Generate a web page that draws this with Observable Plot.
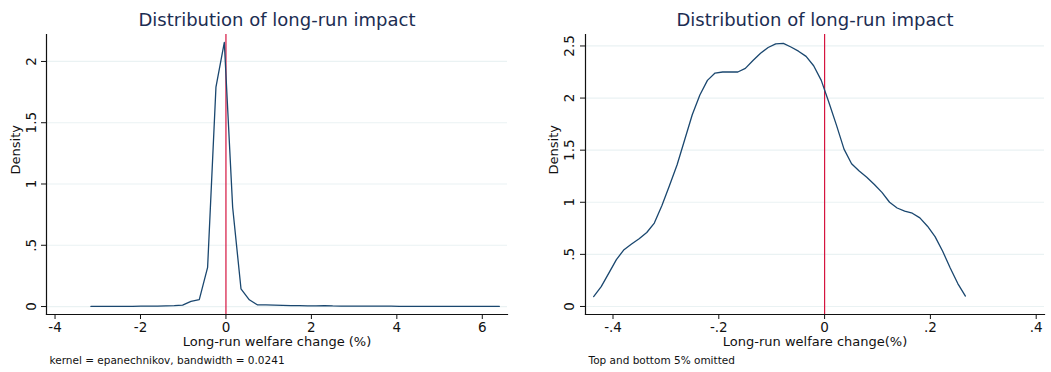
<!DOCTYPE html>
<html>
<head>
<meta charset="utf-8">
<script src="https://cdn.jsdelivr.net/npm/d3@7"></script>
<script src="https://cdn.jsdelivr.net/npm/@observablehq/plot@0.6"></script>
<style>
  html, body { margin: 0; padding: 0; background: #fff; }
  #row { display: flex; width: 1051px; height: 372px; }
  svg { font-family: "DejaVu Sans", sans-serif; }
</style>
</head>
<body>
<div id="row"></div>
<script>
// Kernel density of long-run welfare change, full sample (%)
const fullX = [-3.160, -2.965, -2.770, -2.575, -2.380, -2.184, -1.989, -1.794, -1.599, -1.404,
  -1.209, -1.014, -0.819, -0.624, -0.429, -0.234, -0.038, 0.157, 0.352, 0.547,
  0.742, 0.937, 1.132, 1.327, 1.522, 1.718, 1.913, 2.108, 2.303, 2.498,
  2.693, 2.888, 3.083, 3.278, 3.474, 3.669, 3.864, 4.059, 4.254, 4.449,
  4.644, 4.839, 5.034, 5.230, 5.425, 5.620, 5.815, 6.010, 6.205, 6.400];
const fullDensity = [0.001, 0.001, 0.001, 0.001, 0.002, 0.002, 0.003, 0.004, 0.004, 0.005,
  0.007, 0.012, 0.042, 0.057, 0.320, 1.790, 2.155, 0.810, 0.145, 0.055,
  0.013, 0.013, 0.012, 0.010, 0.008, 0.007, 0.006, 0.006, 0.008, 0.005,
  0.004, 0.004, 0.003, 0.004, 0.003, 0.003, 0.003, 0.002, 0.002, 0.002,
  0.002, 0.002, 0.002, 0.002, 0.002, 0.002, 0.002, 0.002, 0.002, 0.002];

// Kernel density with top and bottom 5% trimmed
const trimX = [-0.4366, -0.4223, -0.4079, -0.3936, -0.3792, -0.3649, -0.3506, -0.3362, -0.3219, -0.3075,
  -0.2932, -0.2788, -0.2645, -0.2502, -0.2358, -0.2215, -0.2071, -0.1928, -0.1784, -0.1641,
  -0.1498, -0.1354, -0.1211, -0.1067, -0.0924, -0.0780, -0.0637, -0.0494, -0.0350, -0.0207,
  -0.0063, 0.0080, 0.0224, 0.0367, 0.0510, 0.0654, 0.0797, 0.0941, 0.1084, 0.1228,
  0.1371, 0.1514, 0.1658, 0.1801, 0.1945, 0.2088, 0.2232, 0.2375, 0.2518, 0.2662];
const trimDensity = [0.095, 0.190, 0.320, 0.450, 0.545, 0.600, 0.650, 0.710, 0.800, 0.970,
  1.160, 1.360, 1.600, 1.840, 2.030, 2.170, 2.240, 2.250, 2.250, 2.250,
  2.285, 2.360, 2.430, 2.485, 2.520, 2.525, 2.490, 2.450, 2.400, 2.310,
  2.170, 1.960, 1.740, 1.510, 1.370, 1.300, 1.240, 1.170, 1.095, 1.000,
  0.945, 0.915, 0.895, 0.850, 0.770, 0.670, 0.530, 0.370, 0.220, 0.100];

// Tick values and their labels
const leftXTicks = [-4, -2, 0, 2, 4, 6];
const leftYTicks = [0, 0.5, 1, 1.5, 2];
const leftYLabels = ["0", ".5", "1", "1.5", "2"];
const rightXTicks = [-0.4, -0.2, 0, 0.2, 0.4];
const rightXLabels = ["-.4", "-.2", "0", ".2", ".4"];
const rightYTicks = [0, 0.5, 1, 1.5, 2, 2.5];
const rightYLabels = ["0", ".5", "1", "1.5", "2", "2.5"];

const titleText = "Distribution of long-run impact";
const leftXTitle = "Long-run welfare change (%)";
const rightXTitle = "Long-run welfare change(%)";
const leftNote = "kernel = epanechnikov, bandwidth = 0.0241";
const rightNote = "Top and bottom 5% omitted";

const NAVY = "#1a476f";
const RED = "#d5143f";
const GRID = "#eaf2f3";
const TITLE = "#1c2d52";
const INK = "#111";

function panel({xs, ys, width, marginLeft, marginRight, xDomain, yDomain,
                xTicks, xLabels, yTicks, yLabels, xTitle, note, densityDx, yPad}) {
  const rows = xs.map((x, i) => ({x, y: ys[i]}));
  const fmtX = xLabels ? (d) => xLabels[xTicks.indexOf(d)] : (d) => String(d).replace("−", "-");
  return Plot.plot({
    width, height: 372,
    marginLeft, marginRight, marginTop: 34, marginBottom: 58,
    style: {fontFamily: "DejaVu Sans, sans-serif", background: "#fff", overflow: "visible"},
    x: {domain: xDomain},
    y: {domain: yDomain},
    marks: [
      Plot.gridY(yTicks, {stroke: GRID, strokeOpacity: 1, strokeWidth: 1.2}),
      Plot.ruleX([0], {stroke: RED, strokeWidth: 1.2}),
      Plot.line(rows, {x: "x", y: "y", stroke: NAVY, strokeWidth: 1.3}),
      Plot.axisX(xTicks, {tickSize: 5, tickPadding: 3, fontSize: 13.5, tickFormat: fmtX,
        label: null, stroke: INK, fill: INK}),
      Plot.axisY(yTicks, {tickSize: 5, tickPadding: yPad, tickRotate: -90, fontSize: 13.5,
        tickFormat: (d) => yLabels[yTicks.indexOf(d)], label: null, stroke: INK, fill: INK}),
      Plot.frame({anchor: "left", stroke: INK, strokeWidth: 1.2}),
      Plot.frame({anchor: "bottom", stroke: INK, strokeWidth: 1.2}),
      Plot.text([titleText], {frameAnchor: "top", dy: -9, lineAnchor: "bottom",
        fontSize: 18, fill: TITLE}),
      Plot.text([xTitle], {frameAnchor: "bottom", dy: 31, lineAnchor: "bottom",
        fontSize: 13, fill: INK}),
      Plot.text([note], {frameAnchor: "bottom-left", dx: 3, dy: 49, lineAnchor: "bottom",
        textAnchor: "start", fontSize: 10.5, fill: INK}),
      Plot.text(["Density"], {frameAnchor: "left", dx: densityDx, rotate: -90,
        lineAnchor: "bottom", fontSize: 13, fill: INK})
    ]
  });
}

const row = document.getElementById("row");

row.appendChild(panel({
  xs: fullX, ys: fullDensity, width: 525, marginLeft: 46, marginRight: 18,
  xDomain: [-4.2, 6.59], yDomain: [-0.065, 2.22],
  xTicks: leftXTicks, xLabels: null, yTicks: leftYTicks, yLabels: leftYLabels,
  xTitle: leftXTitle, note: leftNote, densityDx: -27, yPad: 6
}));

row.appendChild(panel({
  xs: trimX, ys: trimDensity, width: 526, marginLeft: 60, marginRight: 7,
  xDomain: [-0.452, 0.4157], yDomain: [-0.077, 2.61],
  xTicks: rightXTicks, xLabels: rightXLabels, yTicks: rightYTicks, yLabels: rightYLabels,
  xTitle: rightXTitle, note: rightNote, densityDx: -28, yPad: 7
}));
</script>
</body>
</html>
